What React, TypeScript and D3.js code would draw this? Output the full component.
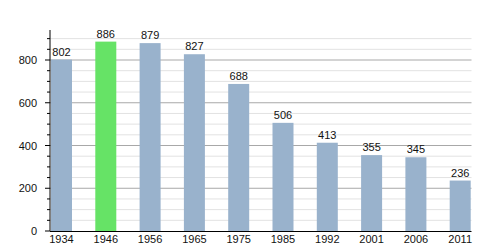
import React from "react";
import * as d3 from "d3";

const years = ["1934", "1946", "1956", "1965", "1975", "1985", "1992", "2001", "2006", "2011"];
const population = [802, 886, 879, 827, 688, 506, 413, 355, 345, 236];
const highlightYear = "1946";
const majorTicks = [0, 200, 400, 600, 800];
const minorTicks = d3.range(0, 951, 50);

export default function App() {
  const W = 500, H = 250;
  const left = 50, right = 471.5, top = 30, bottom = 231;
  const y = d3.scaleLinear().domain([0, 800]).range([bottom, 60]);
  const x = d3.scalePoint<string>().domain(years).range([51, 51 + 9 * 44.3]);
  const bw = 21;
  const font = "'Liberation Sans', Arial, sans-serif";
  return (
    <svg width={W} height={H} style={{ position: "absolute", left: 0, top: 0 }}>
      {minorTicks.filter(v => v % 200 !== 0 && y(v) >= top).map(v => (
        <line key={"g" + v} x1={left} x2={right} y1={y(v)} y2={y(v)} stroke="#e2e2e2" strokeWidth={1} />
      ))}
      {majorTicks.filter(v => v > 0).map(v => (
        <line key={"G" + v} x1={left} x2={right} y1={y(v)} y2={y(v)} stroke="#a8a8a8" strokeWidth={1} />
      ))}
      {years.map((yr, i) => (
        <rect key={yr} x={x(yr)!} width={bw} y={y(population[i])} height={bottom - y(population[i])}
          fill={yr === highlightYear ? "#66e366" : "#99b2cc"} />
      ))}
      {years.map((yr, i) => (
        <text key={"v" + yr} x={x(yr)! + bw / 2} y={y(population[i]) - 4} textAnchor="middle"
          fontFamily={font} fontSize={11} fill="#111">{population[i]}</text>
      ))}
      <line x1={left} x2={left} y1={top} y2={bottom} stroke="#000" strokeWidth={1} />
      <line x1={left} x2={right} y1={bottom + 0.5} y2={bottom + 0.5} stroke="#000" strokeWidth={1.2} />
      {minorTicks.filter(v => y(v) >= top).map(v => (
        <line key={"t" + v} x1={v % 200 === 0 ? left - 5 : left - 3} x2={left} y1={y(v)} y2={y(v)} stroke="#000" strokeWidth={1} />
      ))}
      {majorTicks.map(v => (
        <text key={"y" + v} x={37} y={y(v) + 4} textAnchor="end" fontFamily={font} fontSize={11} fill="#111">{v}</text>
      ))}
      {years.map(yr => (
        <text key={"x" + yr} x={x(yr)! + bw / 2} y={bottom + 12} textAnchor="middle"
          fontFamily={font} fontSize={11} fill="#111">{yr}</text>
      ))}
    </svg>
  );
}
